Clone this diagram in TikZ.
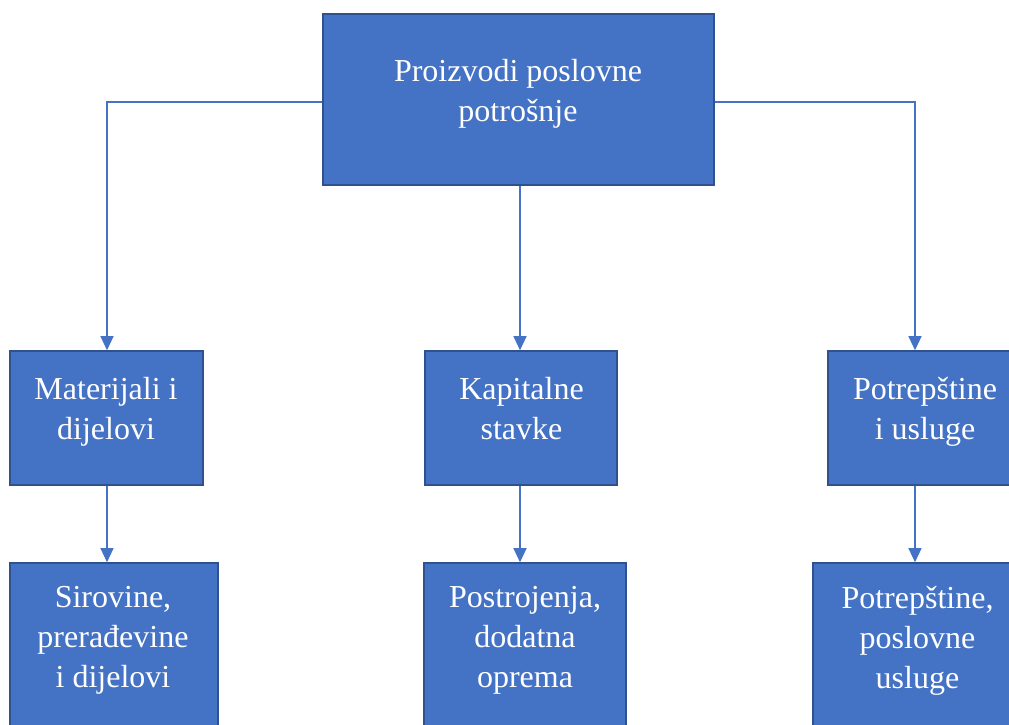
\documentclass[tikz,border=0pt]{standalone}
\usepackage{fontspec}
\setmainfont{Liberation Serif}
\usetikzlibrary{arrows.meta}
\definecolor{boxfill}{HTML}{4472C4}
\definecolor{boxline}{HTML}{2F528F}
\definecolor{linkcol}{HTML}{4472C4}
\begin{document}
\begin{tikzpicture}[x=1pt,y=-1pt,
  box/.style={draw=boxline, line width=1.6pt, fill=boxfill, inner sep=0pt},
  txt/.style={text=white, font=\fontsize{32}{40}\selectfont, align=center, inner sep=0pt},
  link/.style={draw=linkcol, line width=1.2pt},
  arrowlink/.style={link, -{Triangle[length=14pt,width=13pt]}}]
\useasboundingbox (0,0) rectangle (1009,724);
\fill[white] (0,0) rectangle (1009,724);
\clip (0,0) rectangle (1009,724);

% boxes
\node[box, minimum width=391pt, minimum height=171pt] (top) at (518.5,99.5) {};
\node[box, minimum width=193pt, minimum height=134pt] (m1) at (106.5,418) {};
\node[box, minimum width=192pt, minimum height=134pt] (m2) at (521,418) {};
\node[box, minimum width=193pt, minimum height=134pt] (m3) at (924.5,418) {};
\node[box, minimum width=208pt, minimum height=200pt] (b1) at (114,663) {};
\node[box, minimum width=202pt, minimum height=200pt] (b2) at (525,663) {};
\node[box, minimum width=208pt, minimum height=200pt] (b3) at (917,663) {};

% texts
\node[txt] (ttop) at (518,93.5) {Proizvodi poslovne\\potrošnje};
\node[txt] (tm1) at (106,412) {Materijali i\\dijelovi};
\node[txt] (tm2) at (521.5,409) {Kapitalne\\stavke};
\node[txt] (tm3) at (925,412) {Potrepštine\\i usluge};
\node[txt] (tb1) at (113,640.5) {Sirovine,\\prerađevine\\i dijelovi};
\node[txt] (tb2) at (525,640.5) {Postrojenja,\\dodatna\\oprema};
\node[txt] (tb3) at (917.5,640.5) {Potrepštine,\\poslovne\\usluge};

% connector columns
\coordinate (c1) at (107,102);
\coordinate (c2) at (520,102);
\coordinate (c3) at (915,102);

% connectors
\draw[arrowlink] (top.west |- c1) -| (m1.north -| c1);
\draw[arrowlink] (top.east |- c3) -| (m3.north -| c3);
\draw[arrowlink] (top.south -| c2) -- (m2.north -| c2);
\draw[arrowlink] (m1.south -| c1) -- (b1.north -| c1);
\draw[arrowlink] (m2.south -| c2) -- (b2.north -| c2);
\draw[arrowlink] (m3.south -| c3) -- (b3.north -| c3);
\end{tikzpicture}
\end{document}
